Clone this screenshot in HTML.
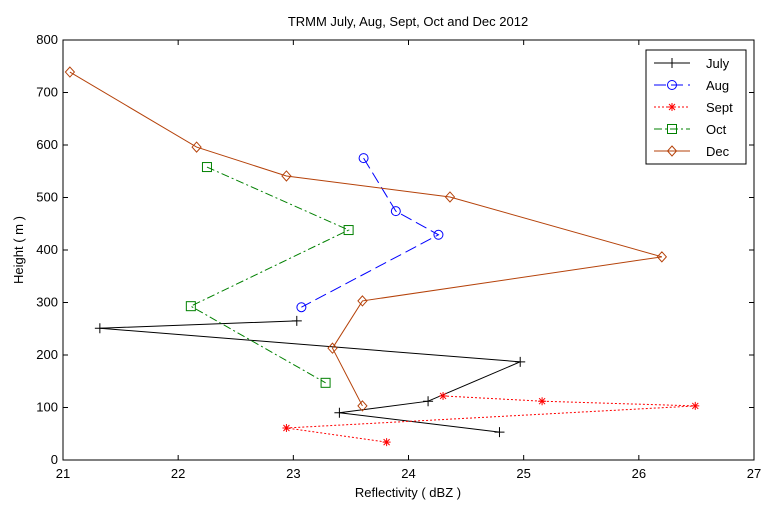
<!DOCTYPE html>
<html><head><meta charset="utf-8"><style>
body{margin:0;background:#fff;font-family:"Liberation Sans",sans-serif}
svg text{font-family:"Liberation Sans",sans-serif;font-size:13px;fill:#000}
</style></head><body>
<svg id="chart" width="777" height="506" xmlns="http://www.w3.org/2000/svg">
<rect x="0" y="0" width="777" height="506" fill="#fff"/>
<g id="axes"></g><g id="series"></g><g id="legend"></g>
</svg>
<script>
const xTicks=[21,22,23,24,25,26,27];
const yTicks=[0,100,200,300,400,500,600,700,800];
const julyX=[23.03,21.32,24.97,24.17,23.40,24.79];
const julyY=[265,251,187,112,90,53];
const augX=[23.61,23.89,24.26,23.07];
const augY=[575,474,429,291];
const septX=[24.30,25.16,26.49,22.94,23.81];
const septY=[122,112,103,61,34];
const octX=[22.25,23.48,22.11,23.28];
const octY=[558,438,293,147];
const decX=[21.06,22.16,22.94,24.36,26.20,23.60,23.34,23.60];
const decY=[739,596,541,501,387,303,213,103];
const seriesNames=["July","Aug","Sept","Oct","Dec"];

const L=63,R=754,T=40,B=460;
const sx=v=>L+(v-21)/6*(R-L);
const sy=v=>B-v/800*(B-T);
const NS="http://www.w3.org/2000/svg";
function mk(tag,attrs,parent){const e=document.createElementNS(NS,tag);for(const k in attrs)e.setAttribute(k,attrs[k]);parent.appendChild(e);return e;}
const axes=document.getElementById('axes');
const frame=mk('rect',{x:L,y:T,width:R-L,height:B-T,fill:'#fff',stroke:'#000','stroke-width':1},axes);


xTicks.forEach(v=>{const x=sx(v);
mk('line',{x1:x,y1:B,x2:x,y2:B-5,stroke:'#000'},axes);mk('line',{x1:x,y1:T,x2:x,y2:T+5,stroke:'#000'},axes);
const t=mk('text',{x:x,y:B+18,'text-anchor':'middle'},axes);t.textContent=v;

});
yTicks.forEach(v=>{const y=sy(v);
mk('line',{x1:L,y1:y,x2:L+5,y2:y,stroke:'#000'},axes);mk('line',{x1:R,y1:y,x2:R-5,y2:y,stroke:'#000'},axes);
const t=mk('text',{x:L-5,y:y+4,'text-anchor':'end'},axes);t.textContent=v;

});
let t=mk('text',{x:408,y:26,'text-anchor':'middle'},axes);t.textContent='TRMM July, Aug, Sept, Oct and Dec 2012';


t=mk('text',{x:408,y:497,'text-anchor':'middle'},axes);t.textContent='Reflectivity ( dBZ )';


t=mk('text',{x:23,y:250,'text-anchor':'middle',transform:'rotate(-90 23 250)'},axes);t.textContent='Height ( m )';



function marker(g,type,x,y,c){
 if(type==='plus'){mk('path',{d:`M${x-5} ${y}H${x+5}M${x} ${y-5}V${y+5}`,stroke:c,fill:'none'},g);}
 else if(type==='circle'){mk('circle',{cx:x,cy:y,r:4.5,stroke:c,fill:'none'},g);}
 else if(type==='star'){mk('path',{d:`M${x-4} ${y}H${x+4}M${x} ${y-4}V${y+4}M${x-3} ${y-3}L${x+3} ${y+3}M${x-3} ${y+3}L${x+3} ${y-3}`,stroke:c,fill:'none'},g);}
 else if(type==='square'){mk('rect',{x:x-4.5,y:y-4.5,width:9,height:9,stroke:c,fill:'none'},g);}
 else if(type==='diamond'){mk('path',{d:`M${x} ${y-5}L${x+4.5} ${y}L${x} ${y+5}L${x-4.5} ${y}Z`,stroke:c,fill:'none'},g);}
}
const styles=[
 {xs:julyX,ys:julyY,c:'#000',dash:'',m:'plus'},
 {xs:augX,ys:augY,c:'#0000ff',dash:'12 5',m:'circle'},
 {xs:septX,ys:septY,c:'#ff0000',dash:'2 2',m:'star'},
 {xs:octX,ys:octY,c:'#008000',dash:'8 3 2 3',m:'square'},
 {xs:decX,ys:decY,c:'#b5420a',dash:'',m:'diamond'}];
const sg=document.getElementById('series');
styles.forEach((s,i)=>{
 const g=mk('g',{},sg);
 
 
 const pts=s.xs.map((v,j)=>sx(v)+','+sy(s.ys[j])).join(' ');
 mk('polyline',{points:pts,fill:'none',stroke:s.c,'stroke-dasharray':s.dash},g);
 s.xs.forEach((v,j)=>marker(g,s.m,sx(v),sy(s.ys[j]),s.c));
});
const lg=document.getElementById('legend');


mk('rect',{x:646,y:50,width:100,height:114,fill:'#fff',stroke:'#000'},lg);
styles.forEach((s,i)=>{
 const y=63+i*22;
 const g=mk('g',{},lg);
 
 
 mk('line',{x1:654,y1:y,x2:690,y2:y,stroke:s.c,'stroke-dasharray':s.dash},g);
 marker(g,s.m,672,y,s.c);
 const tt=mk('text',{x:706,y:y+5},g);tt.textContent=seriesNames[i];
});
</script>
</body></html>
